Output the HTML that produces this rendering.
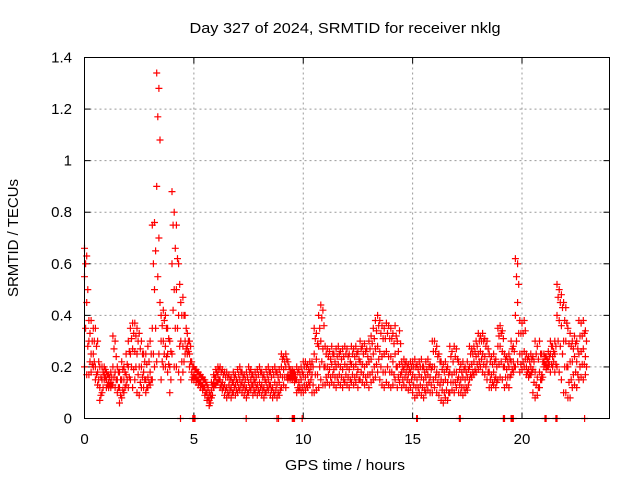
<!DOCTYPE html>
<html><head><meta charset="utf-8"><style>
body{margin:0;background:#fff}
svg{display:block;font-family:"Liberation Sans",sans-serif}
</style></head><body>
<svg id="chart" width="640" height="480" viewBox="0 0 640 480">
<rect width="640" height="480" fill="#fff"/>
<text x="345" y="33" font-size="15" text-anchor="middle" textLength="311" lengthAdjust="spacingAndGlyphs">Day 327 of 2024, SRMTID for receiver nklg</text>
<text x="345" y="470" font-size="15" text-anchor="middle" textLength="120" lengthAdjust="spacingAndGlyphs">GPS time / hours</text>
<text transform="translate(18,238) rotate(-90)" font-size="15" text-anchor="middle">SRMTID / TECUs</text>
<g id="grid"></g>
<g id="axes"></g>
<g id="marks"></g>
<rect x="84.5" y="57.5" width="525" height="361" fill="none" stroke="#000" stroke-width="1"/>
</svg>
<script>
const xTicks=[0,5,10,15,20];
const yTicks=[0,0.2,0.4,0.6,0.8,1,1.2,1.4];
const yTickLabels=["0","0.2","0.4","0.6","0.8","1","1.2","1.4"];
const startHour=0, stepHour=0.1, halfStep=0.05;
const hiVals=[.66,.63,.38,.38,.35,.35,.30,.20,.20,.20,
.18,.17,.18,.32,.30,.20,.18,.22,.20,.25,
.30,.35,.37,.37,.35,.33,.30,.25,.25,.28,
.30,.75,.76,1.34,1.28,.40,.42,.40,.35,.30,
.88,.80,.75,.60,.45,.47,.40,.33,.30,.22,
.20,.19,.18,.17,.16,.15,.13,.10,.14,.17,
.19,.20,.20,.19,.18,.18,.17,.16,.18,.17,
.19,.20,.18,.17,.18,.20,.19,.17,.18,.19,
.20,.18,.17,.19,.20,.18,.19,.20,.18,.19,
.25,.24,.25,.22,.19,.19,.18,.20,.19,.20,
.22,.22,.21,.22,.22,.35,.33,.40,.44,.42,
.28,.27,.26,.28,.25,.27,.28,.26,.27,.28,
.27,.25,.28,.27,.28,.26,.30,.28,.29,.27,
.30,.32,.35,.38,.40,.38,.36,.35,.37,.36,
.35,.33,.36,.30,.34,.22,.23,.22,.21,.22,
.22,.23,.21,.22,.23,.20,.22,.23,.21,.30,
.30,.28,.25,.22,.21,.22,.20,.28,.26,.28,
.27,.22,.21,.22,.20,.22,.28,.27,.28,.30,
.33,.32,.33,.31,.30,.25,.24,.25,.23,.35,
.36,.34,.25,.24,.25,.30,.28,.62,.60,.38,
.37,.38,.25,.24,.25,.24,.30,.28,.30,.25,
.25,.24,.26,.30,.28,.30,.52,.50,.48,.45,
.43,.35,.33,.30,.32,.30,.38,.37,.38,.34];
const midVals=[.55,.45,.30,.25,.25,.20,.18,.12,.15,.17,
.15,.14,.14,.20,.18,.15,.12,.15,.15,.17,
.20,.25,.27,.26,.25,.20,.20,.18,.15,.16,
.18,.35,.50,.90,.70,.30,.30,.28,.25,.20,
.60,.50,.50,.40,.30,.28,.30,.28,.25,.18,
.17,.16,.15,.14,.13,.12,.10,.07,.11,.14,
.16,.17,.15,.14,.13,.12,.13,.12,.14,.13,
.14,.15,.14,.13,.12,.14,.15,.13,.14,.13,
.14,.13,.12,.14,.15,.13,.12,.14,.13,.14,
.20,.19,.20,.17,.17,.17,.16,.15,.14,.15,
.17,.16,.17,.18,.17,.25,.23,.28,.30,.27,
.20,.20,.19,.21,.19,.20,.21,.20,.19,.21,
.20,.19,.21,.20,.21,.19,.22,.21,.20,.21,
.22,.23,.25,.27,.28,.26,.24,.25,.26,.24,
.24,.22,.25,.20,.21,.18,.19,.18,.17,.18,
.17,.16,.15,.17,.16,.15,.16,.17,.16,.20,
.20,.18,.17,.15,.14,.15,.14,.18,.17,.18,
.18,.16,.15,.16,.15,.16,.20,.21,.22,.24,
.25,.26,.25,.24,.22,.18,.17,.18,.16,.28,
.28,.26,.20,.19,.20,.22,.22,.40,.45,.25,
.25,.26,.20,.19,.20,.19,.18,.16,.18,.17,
.22,.21,.22,.25,.24,.25,.40,.38,.36,.30,
.30,.20,.22,.22,.24,.22,.25,.26,.27,.24];
const loVals=[.20,.17,.17,.18,.20,.15,.13,.07,.10,.15,
.12,.12,.12,.13,.12,.10,.06,.08,.10,.13,
.12,.15,.12,.15,.10,.09,.12,.12,.10,.12,
.13,.15,.20,.22,.25,.15,.20,.20,.18,.10,
.25,.20,.20,.18,.15,.18,.25,.25,.20,.15,
.15,.14,.13,.12,.11,.09,.07,.05,.08,.12,
.13,.14,.12,.11,.09,.08,.09,.08,.10,.09,
.10,.11,.10,.09,.08,.10,.11,.09,.10,.09,
.10,.09,.08,.10,.11,.09,.08,.09,.08,.09,
.12,.13,.12,.15,.15,.15,.14,.10,.11,.10,
.10,.11,.12,.13,.10,.10,.11,.12,.15,.13,
.13,.14,.13,.14,.13,.12,.14,.13,.12,.14,
.13,.12,.14,.13,.14,.12,.15,.14,.13,.14,
.12,.14,.15,.16,.18,.15,.13,.12,.14,.13,
.12,.13,.15,.12,.14,.12,.13,.12,.11,.12,
.10,.08,.09,.10,.09,.08,.10,.11,.10,.10,
.12,.10,.09,.07,.06,.08,.07,.10,.11,.10,
.12,.10,.10,.09,.10,.11,.15,.16,.17,.18,
.19,.20,.18,.17,.15,.12,.12,.13,.12,.15,
.16,.15,.12,.13,.12,.17,.18,.20,.22,.18,
.19,.20,.17,.16,.17,.10,.08,.09,.12,.15,
.20,.19,.20,.18,.20,.18,.20,.18,.15,.10,
.10,.08,.08,.12,.13,.12,.15,.16,.15,.17];
const upQVals=[.60,.50,.33,.30,.30,.28,.22,.16,.18,.19,
.17,.16,.16,.27,.24,.18,.15,.19,.18,.21,
.26,.31,.33,.32,.30,.27,.25,.22,.21,.22,
.25,.60,.65,1.17,1.08,.36,.38,.35,.31,.26,
.75,.66,.62,.52,.40,.40,.35,.30,.28,.20,
.19,.18,.17,.16,.15,.14,.12,.09,.13,.16,
.18,.19,.18,.17,.16,.16,.15,.14,.16,.15,
.17,.18,.16,.15,.16,.18,.17,.15,.16,.17,
.18,.16,.15,.17,.18,.16,.17,.18,.16,.17,
.23,.22,.23,.20,.18,.18,.17,.18,.17,.18,
.20,.20,.19,.20,.20,.31,.29,.35,.39,.36,
.25,.24,.23,.25,.22,.24,.25,.23,.24,.25,
.24,.22,.25,.24,.25,.23,.27,.25,.26,.24,
.27,.29,.31,.34,.36,.33,.31,.31,.33,.31,
.31,.29,.32,.26,.29,.20,.21,.20,.19,.20,
.20,.20,.19,.20,.20,.18,.19,.20,.19,.26,
.26,.24,.22,.19,.18,.19,.17,.24,.22,.24,
.23,.19,.18,.19,.18,.19,.25,.25,.26,.28,
.30,.30,.30,.28,.27,.22,.21,.22,.20,.32,
.33,.31,.23,.22,.23,.27,.26,.55,.52,.33,
.33,.34,.23,.22,.23,.22,.25,.23,.25,.22,
.24,.23,.24,.28,.26,.28,.47,.45,.43,.38,
.37,.29,.28,.27,.29,.27,.32,.32,.33,.30];
const loQVals=[.35,.28,.22,.21,.22,.17,.15,.09,.12,.16,
.13,.13,.13,.16,.15,.12,.09,.11,.12,.15,
.16,.20,.19,.20,.17,.14,.16,.15,.12,.14,
.15,.25,.35,.55,.45,.22,.25,.24,.21,.15,
.42,.35,.35,.28,.22,.22,.27,.26,.22,.16,
.16,.15,.14,.13,.12,.10,.08,.06,.09,.13,
.14,.15,.13,.12,.11,.10,.11,.10,.12,.11,
.12,.13,.12,.11,.10,.12,.13,.11,.12,.11,
.12,.11,.10,.12,.13,.11,.10,.11,.10,.11,
.16,.16,.16,.16,.16,.16,.15,.12,.12,.12,
.13,.13,.14,.15,.13,.17,.17,.20,.22,.20,
.16,.17,.16,.17,.16,.16,.17,.16,.15,.17,
.16,.15,.17,.16,.17,.15,.18,.17,.16,.17,
.17,.18,.20,.21,.23,.20,.18,.18,.20,.18,
.18,.17,.20,.16,.17,.15,.16,.15,.14,.15,
.13,.12,.12,.13,.12,.11,.13,.14,.13,.15,
.16,.14,.13,.11,.10,.11,.10,.14,.14,.14,
.15,.13,.12,.12,.12,.13,.17,.18,.19,.21,
.22,.23,.21,.20,.18,.15,.14,.15,.14,.21,
.22,.20,.16,.16,.16,.19,.20,.30,.33,.21,
.22,.23,.18,.17,.18,.14,.13,.12,.15,.16,
.21,.20,.21,.21,.22,.21,.30,.28,.25,.20,
.20,.14,.15,.17,.18,.17,.20,.21,.21,.20];
const zeroTimes=[4.39,4.95,5.0,5.05,7.39,8.8,8.87,9.5,9.55,9.6,9.95,15.18,15.22,17.14,17.18,19.15,19.2,19.5,19.55,19.6,21.05,21.1,21.55,21.6,22.86];

const NS="http://www.w3.org/2000/svg";
const L=84.5,R=609.5,T=57.5,B=418.5,XMAX=24,YMAX=1.4;
function xs(h){return L+(R-L)*h/XMAX;}
function ys(v){return B-(B-T)*v/YMAX;}
function mk(tag,attrs,parent){const e=document.createElementNS(NS,tag);for(const k in attrs)e.setAttribute(k,attrs[k]);parent.appendChild(e);return e;}
const grid=document.getElementById('grid'),axes=document.getElementById('axes'),marks=document.getElementById('marks');
xTicks.forEach(t=>{
  const x=xs(t);
  if(t>0){const g=mk('line',{x1:x,x2:x,y1:T,y2:B,stroke:'#999','stroke-dasharray':'2,3'},grid);
  
  }
  mk('line',{x1:x,x2:x,y1:B,y2:B-6,stroke:'#000'},axes);
  mk('line',{x1:x,x2:x,y1:T,y2:T+6,stroke:'#000'},axes);
  const lb=mk('text',{x:x,y:444,'font-size':15,'text-anchor':'middle'},axes);
  lb.textContent=t;
  
  
});
yTicks.forEach((t,i)=>{
  const y=ys(t);
  if(t>0&&t<YMAX){const g=mk('line',{x1:L,x2:R,y1:y,y2:y,stroke:'#999','stroke-dasharray':'2,3'},grid);
  
  }
  mk('line',{x1:L,x2:L+6,y1:y,y2:y,stroke:'#000'},axes);
  mk('line',{x1:R,x2:R-6,y1:y,y2:y,stroke:'#000'},axes);
  const lb=mk('text',{x:72,y:y+5,'font-size':15,'text-anchor':'end'},axes);
  lb.textContent=yTickLabels[i];
  
  
});
let d='';
function plus(h,v){const x=xs(h),y=ys(v);d+=`M${(x-3.5).toFixed(1)} ${y.toFixed(1)}h7M${x.toFixed(1)} ${(y-3.5).toFixed(1)}v7`;}
[hiVals,midVals,loVals].forEach(arr=>arr.forEach((v,i)=>plus(startHour+i*stepHour,v)));
[upQVals,loQVals].forEach(arr=>arr.forEach((v,i)=>plus(startHour+i*stepHour+halfStep,v)));
zeroTimes.forEach(h=>plus(h,0));
const p=mk('path',{d:d,stroke:'#f00','stroke-width':1.2,fill:'none'},marks);


</script>
</body></html>
